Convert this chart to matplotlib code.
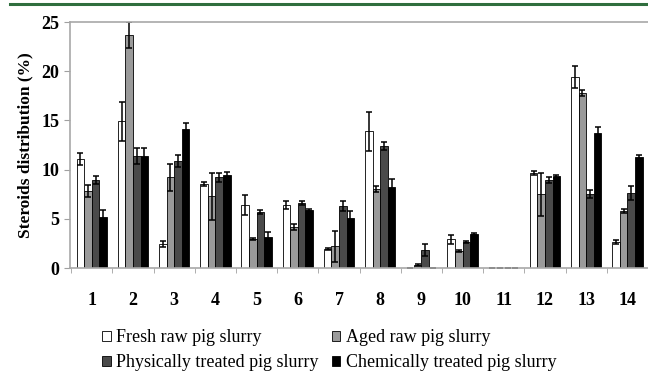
import numpy as np
import matplotlib.pyplot as plt
from matplotlib.lines import Line2D

# Steroid groups 1..14
groups = [str(i) for i in range(1, 15)]
series_names = ["Fresh raw pig slurry", "Aged raw pig slurry",
                "Physically treated pig slurry", "Chemically treated pig slurry"]

fresh = [11.1, 14.9, 2.4, 8.5, 6.4, 6.4, 1.9, 13.9, 0.0, 2.9, 0.0, 9.7, 19.4, 2.6]
fresh_err = [0.6, 2.0, 0.3, 0.2, 1.0, 0.4, 0.1, 2.0, 0.0, 0.5, 0.0, 0.2, 1.1, 0.2]
aged = [7.8, 23.7, 9.2, 7.3, 2.9, 4.2, 2.2, 8.0, 0.3, 1.7, 0.0, 7.5, 17.8, 5.8]
aged_err = [0.6, 1.3, 1.4, 2.4, 0.1, 0.3, 1.6, 0.3, 0.1, 0.1, 0.0, 2.2, 0.3, 0.2]
physical = [8.9, 11.4, 10.9, 9.2, 5.7, 6.6, 6.3, 12.4, 1.8, 2.6, 0.0, 8.9, 7.5, 7.6]
physical_err = [0.4, 0.8, 0.6, 0.5, 0.2, 0.2, 0.5, 0.4, 0.6, 0.1, 0.0, 0.3, 0.4, 0.7]
chemical = [5.2, 11.4, 14.1, 9.5, 3.1, 5.9, 5.1, 8.2, 0.0, 3.5, 0.0, 9.3, 13.7, 11.3]
chemical_err = [0.7, 0.8, 0.6, 0.3, 0.6, 0.1, 0.7, 0.8, 0.0, 0.1, 0.0, 0.2, 0.6, 0.2]

values = [fresh, aged, physical, chemical]
errors = [fresh_err, aged_err, physical_err, chemical_err]
colors = ["white", "#9a9a9a", "#4a4a4a", "black"]

plt.rcParams['font.family'] = ['Liberation Serif', 'DejaVu Serif']

fig = plt.figure(figsize=(6.48, 3.73), dpi=100)
ax = fig.add_axes([0.108, 0.2815, 0.892, 0.6595])

x = np.arange(1, len(groups) + 1)
bar_w = 0.185
offsets = (np.arange(4) - 1.5) * bar_w

handles = []
for i in range(4):
    b = ax.bar(x + offsets[i], values[i], width=bar_w, color=colors[i],
               edgecolor="black", linewidth=0.6, label=series_names[i])
    handles.append(b)
    ax.errorbar(x + offsets[i], values[i], yerr=errors[i], fmt="none",
                ecolor="black", elinewidth=1.1, capsize=2.4, capthick=1.1)

ax.set_xlim(0.47, 14.36)
ax.set_ylim(0, 25)
ax.set_yticks([0, 5, 10, 15, 20, 25])
ax.set_xticks(x)
ax.set_xticklabels(groups)
ax.set_xticks(np.arange(0.5, 15, 1), minor=True)
ax.tick_params(axis="x", which="major", length=0, pad=17)
ax.tick_params(axis="x", which="minor", length=3.5, color="#a0a0a0")
ax.tick_params(axis="y", length=4, color="#a0a0a0")
for lab in ax.get_xticklabels() + ax.get_yticklabels():
    lab.set_fontweight("bold")
    lab.set_fontsize(13)

for side in ["left", "bottom", "top"]:
    ax.spines[side].set_color("#a8a8a8")
    ax.spines[side].set_linewidth(1.2)
ax.spines["right"].set_visible(False)

ax.set_ylabel("Steroids distribution (%)", fontsize=12.5, fontweight="bold", labelpad=6)

# legend fills row by row in the reference
order = [0, 2, 1, 3]
fig.legend(handles=[handles[i] for i in order], labels=[series_names[i] for i in order],
           ncol=2, loc="upper left", bbox_to_anchor=(0.158, 0.117), frameon=False,
           prop={"family": "Liberation Serif", "size": 13},
           handlelength=0.45, handleheight=0.45, handletextpad=0.3,
           columnspacing=0.75, labelspacing=0.45, borderaxespad=0, borderpad=0)

fig.add_artist(Line2D([0.015, 1.0], [0.989, 0.989], color="#2f6e3e", linewidth=2.2))

fig.savefig("out.png", dpi=100)
